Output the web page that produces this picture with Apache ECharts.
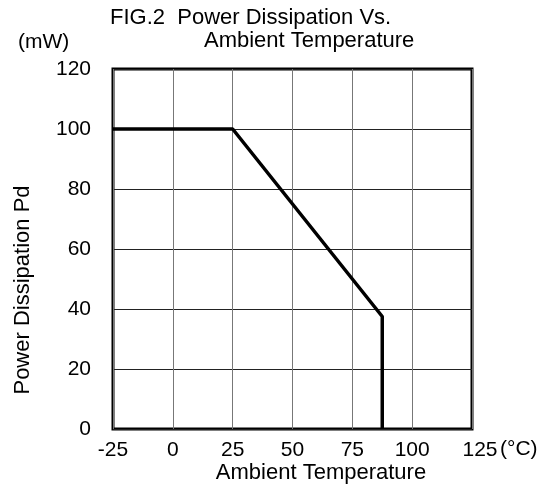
<!DOCTYPE html>
<html>
<head>
<meta charset="utf-8">
<script src="https://cdn.jsdelivr.net/npm/echarts@6/dist/echarts.min.js"></script>
<style>
html, body { margin: 0; padding: 0; background: #fff; }
#chart { width: 551px; height: 486px; }
</style>
</head>
<body>
<div id="chart"></div>
<script>
// derating curve
const tempC = [-25, 25, 87.5, 87.5];
const powerMw = [100, 100, 37.5, 0];
const xTicks = [-25, 0, 25, 50, 75, 100, 125];
const yTicks = [0, 20, 40, 60, 80, 100, 120];

const font = 'Arial, "Liberation Sans", sans-serif';
const fs = 21;
const chart = echarts.init(document.getElementById('chart'));

chart.setOption({
    backgroundColor: '#fff',
    animation: false,
    grid: {
        left: 113,
        top: 69,
        right: 79,
        bottom: 57,
        show: true,
        borderColor: '#000',
        borderWidth: 3,
    },
    xAxis: {
        type: 'value',
        min: xTicks[0],
        max: xTicks[xTicks.length - 1],
        interval: 25,
        axisLine: { show: false },
        axisTick: { show: false },
        axisLabel: {
            fontSize: fs, color: '#000', fontFamily: font, margin: 11,
            // last tick sits a bit right, next to the unit
            formatter: v => v === 125 ? '{s|125}' : String(v),
            rich: { s: { fontSize: fs, color: '#000', fontFamily: font, padding: [0, 0, 0, 16] } },
        },
        splitLine: { show: true, lineStyle: { color: '#777', width: 1 } },
    },
    yAxis: {
        type: 'value',
        min: yTicks[0],
        max: yTicks[yTicks.length - 1],
        interval: 20,
        axisLine: { show: false },
        axisTick: { show: false },
        axisLabel: { fontSize: fs, color: '#000', fontFamily: font, margin: 22 },
        splitLine: { show: true, lineStyle: { color: '#222', width: 1 } },
    },
    series: [{
        type: 'line',
        data: tempC.map((t, i) => [t, powerMw[i]]),
        symbol: 'none',
        lineStyle: { color: '#000', width: 3.5 },
        z: 5,
    }],
    graphic: [
        { type: 'text', left: 110, top: 7, style: { text: 'FIG.2  Power Dissipation Vs.', fontSize: 22, fill: '#000', fontFamily: font } },
        { type: 'text', left: 204, top: 30, style: { text: 'Ambient Temperature', fontSize: 22, fill: '#000', fontFamily: font } },
        { type: 'text', left: 18, top: 32, style: { text: '(mW)', fontSize: fs, fill: '#000', fontFamily: font } },
        { type: 'text', left: 500, top: 439, style: { text: '(°C)', fontSize: fs, fill: '#000', fontFamily: font } },
        // axis titles, placed as in the figure (not centred on the plot)
        { type: 'text', x: 321, y: 473, style: { text: 'Ambient Temperature', fontSize: 22, fill: '#000', fontFamily: font, align: 'center', verticalAlign: 'middle' } },
        { type: 'text', x: 23, y: 290, rotation: Math.PI / 2, style: { text: 'Power Dissipation Pd', fontSize: 22, fill: '#000', fontFamily: font, align: 'center', verticalAlign: 'middle' } },
    ],
});
</script>
</body>
</html>
